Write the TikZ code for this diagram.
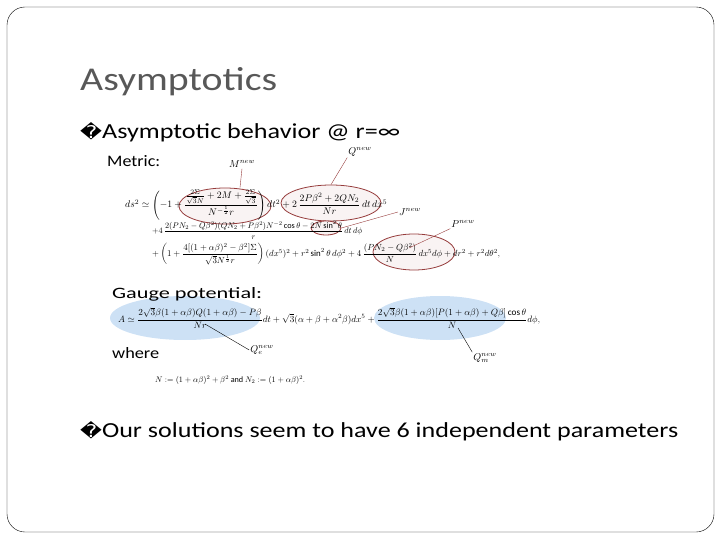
\documentclass[tikz,border=0pt]{standalone}
\usepackage{amsmath}
\usepackage{fontspec}
\setmainfont{Carlito}
\newfontfamily\symfont{DejaVu Sans}
\usetikzlibrary{shapes.geometric}
\definecolor{titlegray}{RGB}{88,88,88}
\definecolor{ovalred}{RGB}{150,60,60}
\definecolor{ovalblue}{RGB}{205,225,245}
\tikzset{
  slidetext/.style={anchor=west,inner sep=0pt,font=\fontsize{22}{24}\selectfont},
  smalltext/.style={anchor=west,inner sep=0pt,font=\fontsize{15}{17}\selectfont},
  eqn/.style={anchor=west,inner sep=0pt},
  redoval/.style={ellipse,draw=ovalred,fill=ovalred!6,thick},
  blueoval/.style={ellipse,fill=ovalblue},
  lbl/.style={inner sep=1pt,font=\normalsize},
  pointer/.style={draw=ovalred,thin},
  bpointer/.style={draw=black,thin}
}
\newcommand{\bulletbox}{{\symfont\fontsize{18}{20}\selectfont\char"FFFD}}
\newcommand{\wbox}[2]{\resizebox{#1}{!}{#2}}
\newcommand{\whbox}[3]{\resizebox{#1}{#2}{#3}}
\begin{document}
\begin{tikzpicture}[x=1pt,y=-1pt]
\useasboundingbox (0,0) rectangle (720,540);
\draw[rounded corners=18pt,thin] (7,7) rectangle (714,532);
% ovals behind the formulas
\node[redoval,minimum width=92,minimum height=36] (om) at (225,206) {};
\node[redoval,minimum width=100,minimum height=36] (oq) at (331,203) {};
\node[redoval,minimum width=30,minimum height=14] (oj) at (326,228) {};
\node[redoval,minimum width=82,minimum height=36] (op) at (414,252) {};
\node[blueoval,minimum width=150,minimum height=44] (oe) at (185,318) {};
\node[blueoval,minimum width=132,minimum height=44] (ob) at (440,318) {};
% texts
\node[anchor=west,inner sep=0pt,text=titlegray,font=\fontsize{32}{34}\selectfont] (title) at (80,82) {\whbox{197pt}{23pt}{Asymptotics}};
\node[slidetext] (b1) at (80,132) {\whbox{320pt}{16pt}{\bulletbox Asymptotic behavior @ r=∞}};
\node[smalltext] (metric) at (107,161) {\whbox{53pt}{11pt}{Metric:}};
\node[smalltext] (gauge) at (112,294) {\whbox{150pt}{11pt}{Gauge potential:}};
\node[smalltext] (where) at (112,353) {\whbox{47pt}{11pt}{where}};
\node[slidetext] (b2) at (80,431) {\whbox{598pt}{16pt}{\bulletbox Our solutions seem to have 6 independent parameters}};
% metric
\node[eqn] (m1) at (125,205) {\wbox{262pt}{$ds^2\simeq\left(-1+\dfrac{\frac{2\Sigma}{\sqrt3 N}+2M+\frac{2\Sigma}{\sqrt3}}{N^{-\frac12}r}\right)dt^2+2\,\dfrac{2P\beta^2+2QN_2}{Nr}\,dt\,dx^5$}};
\node[eqn] (m2) at (152,230) {\wbox{210pt}{$+4\,\dfrac{2(PN_2-Q\beta^2)(QN_2+P\beta^2)N^{-2}\cos\theta-2N\sin^2\theta}{r}\,dt\,d\phi$}};
\node[eqn] (m3) at (152,254) {\wbox{348pt}{$+\left(1+\dfrac{4[(1+\alpha\beta)^2-\beta^2]\Sigma}{\sqrt3 N^{\frac12}r}\right)(dx^5)^2+r^2\sin^2\theta\,d\phi^2+4\,\dfrac{(PN_2-Q\beta^2)}{N}\,dx^5d\phi+dr^2+r^2d\theta^2,$}};
% gauge
\node[eqn] (g1) at (118,318) {\wbox{422pt}{$A\simeq\dfrac{2\sqrt3\beta(1+\alpha\beta)Q(1+\alpha\beta)-P\beta}{Nr}dt+\sqrt3(\alpha+\beta+\alpha^2\beta)dx^5+\dfrac{2\sqrt3\beta(1+\alpha\beta)[P(1+\alpha\beta)+Q\beta]\cos\theta}{N}d\phi,$}};
\node[eqn] (w1) at (155,380) {\wbox{150pt}{$N:=(1+\alpha\beta)^2+\beta^2\ \text{and}\ N_2:=(1+\alpha\beta)^2.$}};
% labels
\node[lbl] (Mnew) at (242,164) {$M^{new}$};
\node[lbl] (Qnew) at (360,152) {$Q^{new}$};
\node[lbl] (Jnew) at (410,212) {$J^{new}$};
\node[lbl] (Pnew) at (463,224) {$P^{new}$};
\node[lbl] (Qe) at (262,350) {$Q_e^{new}$};
\node[lbl] (Qm) at (485,358) {$Q_m^{new}$};
\draw[pointer] (om.north) ++(15,0) -- (Mnew.south);
\draw[pointer] (oq.north) -- (Qnew.south west);
\draw[pointer] (oj.east) -- (Jnew.west);
\draw[pointer] (op.center) ++(-5,-4) -- (Pnew.south west);
\draw[bpointer] (205,324) -- (Qe.west);
\draw[bpointer] (458,328) -- (Qm.north west);
\end{tikzpicture}
\end{document}
